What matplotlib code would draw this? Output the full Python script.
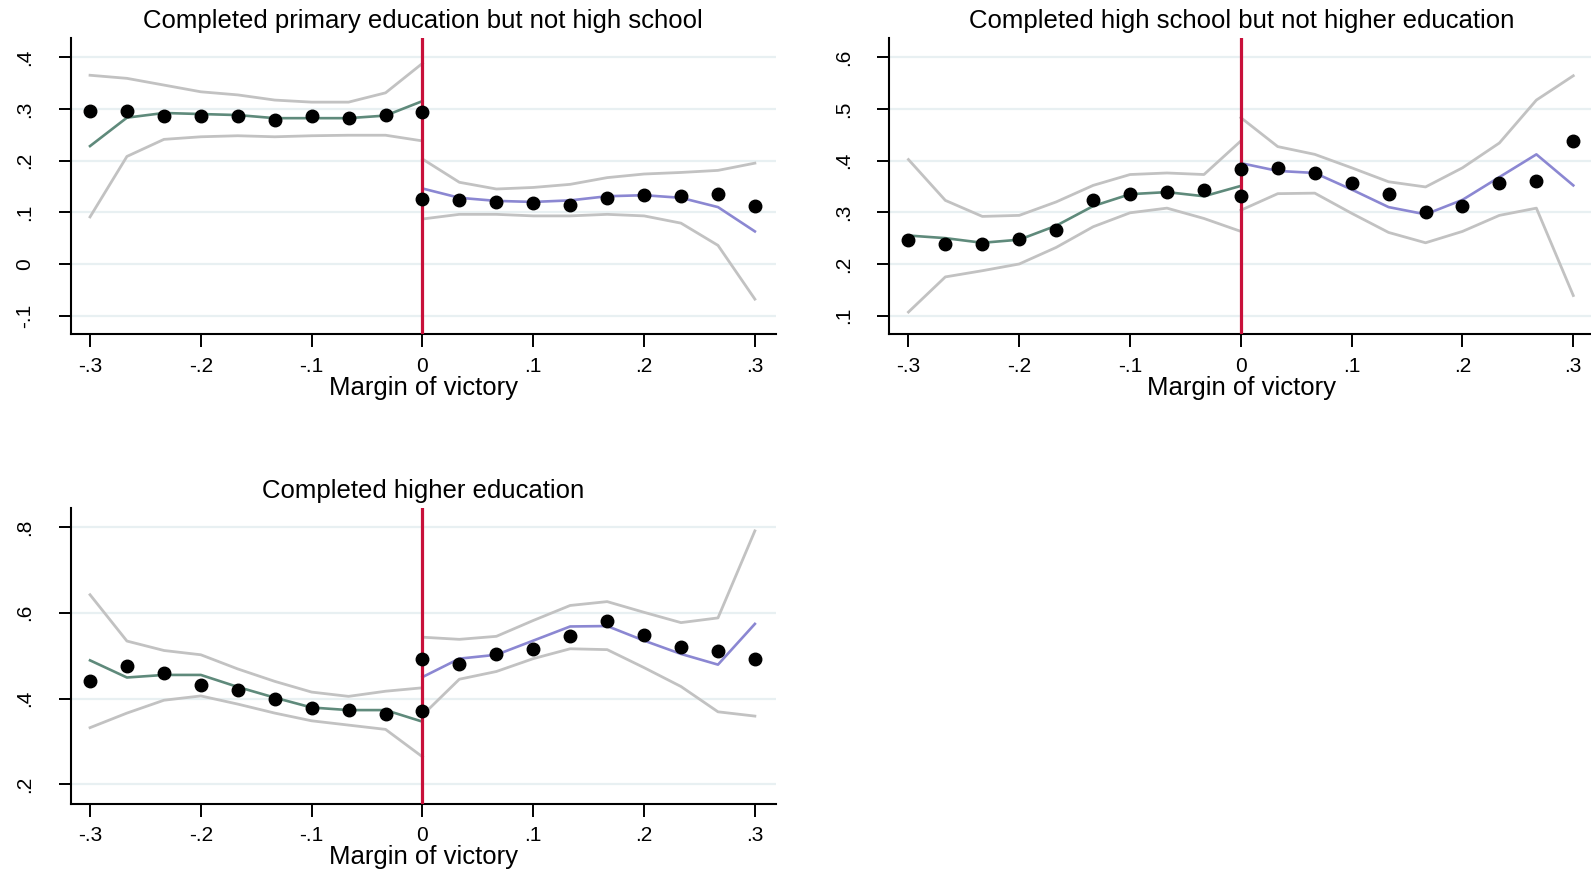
import matplotlib
matplotlib.use("Agg")
import matplotlib.pyplot as plt

plt.rcParams['font.family'] = ['Liberation Sans', 'DejaVu Sans']

# bins of the running variable, each side of the cutoff
x_left = [-0.3, -0.2667, -0.2333, -0.2, -0.1667, -0.1333, -0.1, -0.0667, -0.0333, 0.0]
x_right = [0.0, 0.0333, 0.0667, 0.1, 0.1333, 0.1667, 0.2, 0.2333, 0.2667, 0.3]

titles = ["Completed primary education but not high school",
          "Completed high school but not higher education",
          "Completed higher education"]

# primary education
p1_dots_l = [0.296, 0.295, 0.286, 0.287, 0.286, 0.278, 0.286, 0.282, 0.289, 0.293]
p1_dots_r = [0.126, 0.124, 0.120, 0.118, 0.115, 0.128, 0.134, 0.132, 0.135, 0.113]
p1_fit_l = [0.228, 0.283, 0.292, 0.290, 0.288, 0.282, 0.282, 0.282, 0.287, 0.315]
p1_fit_r = [0.146, 0.128, 0.122, 0.120, 0.123, 0.131, 0.133, 0.128, 0.110, 0.063]
p1_hi_l = [0.365, 0.359, 0.346, 0.333, 0.327, 0.317, 0.313, 0.313, 0.331, 0.388]
p1_lo_l = [0.091, 0.208, 0.241, 0.246, 0.248, 0.246, 0.248, 0.249, 0.249, 0.238]
p1_hi_r = [0.203, 0.158, 0.145, 0.148, 0.154, 0.167, 0.174, 0.177, 0.181, 0.195]
p1_lo_r = [0.087, 0.096, 0.096, 0.093, 0.093, 0.096, 0.093, 0.079, 0.036, -0.068]

# high school
p2_dots_l = [0.247, 0.239, 0.239, 0.249, 0.265, 0.323, 0.335, 0.339, 0.344, 0.331]
p2_dots_r = [0.383, 0.386, 0.375, 0.357, 0.336, 0.300, 0.313, 0.357, 0.360, 0.438]
p2_fit_l = [0.255, 0.250, 0.241, 0.247, 0.274, 0.312, 0.335, 0.339, 0.331, 0.351]
p2_fit_r = [0.395, 0.380, 0.376, 0.344, 0.310, 0.296, 0.324, 0.368, 0.412, 0.352]
p2_hi_l = [0.402, 0.323, 0.292, 0.294, 0.320, 0.352, 0.373, 0.376, 0.373, 0.438]
p2_lo_l = [0.107, 0.175, 0.187, 0.200, 0.232, 0.272, 0.299, 0.308, 0.288, 0.263]
p2_hi_r = [0.483, 0.427, 0.412, 0.386, 0.359, 0.349, 0.386, 0.434, 0.517, 0.564]
p2_lo_r = [0.304, 0.336, 0.337, 0.298, 0.261, 0.241, 0.263, 0.294, 0.308, 0.139]

# higher education
p3_dots_l = [0.440, 0.475, 0.459, 0.431, 0.421, 0.398, 0.377, 0.374, 0.363, 0.370]
p3_dots_r = [0.491, 0.481, 0.504, 0.516, 0.545, 0.580, 0.547, 0.521, 0.510, 0.491]
p3_fit_l = [0.489, 0.449, 0.455, 0.455, 0.427, 0.402, 0.379, 0.373, 0.373, 0.346]
p3_fit_r = [0.450, 0.493, 0.502, 0.535, 0.568, 0.569, 0.535, 0.504, 0.479, 0.574]
p3_hi_l = [0.642, 0.534, 0.512, 0.502, 0.469, 0.440, 0.415, 0.405, 0.417, 0.425]
p3_lo_l = [0.332, 0.366, 0.396, 0.406, 0.387, 0.366, 0.348, 0.338, 0.328, 0.264]
p3_hi_r = [0.543, 0.538, 0.545, 0.582, 0.617, 0.626, 0.601, 0.577, 0.588, 0.791]
p3_lo_r = [0.361, 0.445, 0.463, 0.493, 0.516, 0.514, 0.472, 0.428, 0.369, 0.359]

xticks = [-0.3, -0.2, -0.1, 0.0, 0.1, 0.2, 0.3]
xticklabels = ["-.3", "-.2", "-.1", "0", ".1", ".2", ".3"]
p1_yticks = [-0.1, 0.0, 0.1, 0.2, 0.3, 0.4]
p1_ylabels = ["-.1", "0", ".1", ".2", ".3", ".4"]
p2_yticks = [0.1, 0.2, 0.3, 0.4, 0.5, 0.6]
p2_ylabels = [".1", ".2", ".3", ".4", ".5", ".6"]
p3_yticks = [0.2, 0.4, 0.6, 0.8]
p3_ylabels = [".2", ".4", ".6", ".8"]

GREEN = '#5f8a7b'
PURPLE = '#8b87d2'
GRAY = '#c2c2c2'
RED = '#c8103a'
GRID = '#e8f0f2'

fig = plt.figure(figsize=(15.91, 8.74), dpi=100)
W = 0.4433
H = 0.339
ax1 = fig.add_axes([0.0444, 0.6175, W, H])
ax2 = fig.add_axes([0.5588, 0.6175, W, H])
ax3 = fig.add_axes([0.0444, 0.0801, W, H])

panels = [
    (ax1, titles[0], p1_dots_l, p1_dots_r, p1_fit_l, p1_fit_r, p1_hi_l, p1_lo_l, p1_hi_r, p1_lo_r,
     p1_yticks, p1_ylabels, (-0.136, 0.437)),
    (ax2, titles[1], p2_dots_l, p2_dots_r, p2_fit_l, p2_fit_r, p2_hi_l, p2_lo_l, p2_hi_r, p2_lo_r,
     p2_yticks, p2_ylabels, (0.064, 0.637)),
    (ax3, titles[2], p3_dots_l, p3_dots_r, p3_fit_l, p3_fit_r, p3_hi_l, p3_lo_l, p3_hi_r, p3_lo_r,
     p3_yticks, p3_ylabels, (0.154, 0.845)),
]

for (ax, title, dl, dr, fl, fr, hl, ll, hr, lr, yt, yl, ylim) in panels:
    for y in yt:
        ax.axhline(y, color=GRID, lw=1.6, zorder=0)
    ax.plot(x_left, hl, color=GRAY, lw=2, zorder=2)
    ax.plot(x_left, ll, color=GRAY, lw=2, zorder=2)
    ax.plot(x_right, hr, color=GRAY, lw=2, zorder=2)
    ax.plot(x_right, lr, color=GRAY, lw=2, zorder=2)
    ax.plot(x_left, fl, color=GREEN, lw=1.9, zorder=3)
    ax.plot(x_right, fr, color=PURPLE, lw=1.9, zorder=3)
    ax.axvline(0, color=RED, lw=2.3, zorder=4)
    ax.plot(x_left, dl, 'o', color='black', ms=9, zorder=5)
    ax.plot(x_right, dr, 'o', color='black', ms=9, zorder=5)

    ax.set_xlim(-0.3175, 0.319)
    ax.set_ylim(*ylim)
    ax.set_xticks(xticks)
    ax.set_xticklabels(xticklabels)
    ax.set_yticks(yt)
    ax.set_yticklabels(yl, rotation=90, va='center')
    ax.tick_params(axis='both', length=9, width=1.4, labelsize=15, color='black')
    ax.tick_params(axis='x', pad=7)
    ax.tick_params(axis='y', pad=17)
    for s in ['top', 'right']:
        ax.spines[s].set_visible(False)
    for s in ['left', 'bottom']:
        ax.spines[s].set_linewidth(1.5)
    ax.set_title(title, fontsize=18.5, pad=7)
    ax.set_xlabel("Margin of victory", fontsize=18.5, labelpad=0)

fig.savefig('out.png', dpi=100)
